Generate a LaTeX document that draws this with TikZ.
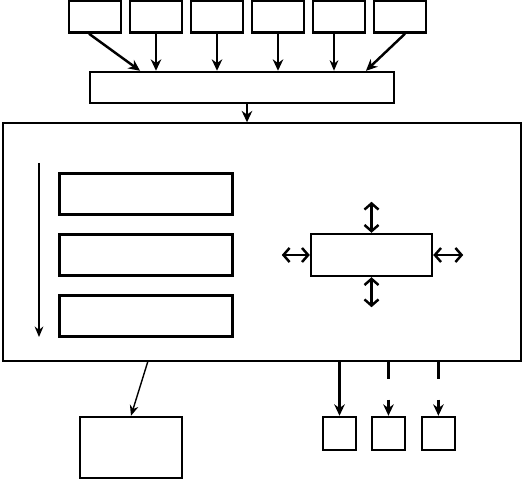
\documentclass[tikz,border=0pt]{standalone}
\usepackage{tikz}
\usetikzlibrary{arrows.meta, positioning, calc}

\begin{document}
\begin{tikzpicture}[
    x=0.02cm, y=-0.02cm,
    box/.style={rectangle, draw, line width=1.4pt, inner sep=0pt},
    topbox/.style={box, minimum width=1.04cm, minimum height=0.64cm},
    stage/.style={box, minimum width=3.46cm, minimum height=0.82cm},
    outbox/.style={box, minimum width=0.66cm, minimum height=0.66cm},
    arrow/.style={-{Stealth[length=6.5pt,width=6pt]}, line width=1.4pt},
    thinarrow/.style={-{Stealth[length=6pt,width=5pt]}, line width=0.8pt},
    dblarrow/.style={{Straight Barb[length=3.5pt,width=8pt]}-{Straight Barb[length=3.5pt,width=8pt]}, line width=1.4pt},
    node distance=0.35cm
]
\useasboundingbox (0,0) rectangle (526,479);
\foreach \i in {1,...,6}
    \node[topbox] (T\i) at ({95+61*(\i-1)},16.5) {};
\node[box, minimum width=6.08cm, minimum height=0.62cm] (W) at (242,87.5) {};
\node[rectangle, draw, line width=0.8pt, minimum width=10.36cm,
      minimum height=4.76cm] (M) at (262,242) {};
\node[stage] (S1) at (146,194) {};
\node[stage, below=of S1] (S2) {};
\node[stage, below=of S2] (S3) {};
\node[box, minimum width=2.42cm, minimum height=0.84cm] (R) at (371.5,255) {};
\node[box, minimum width=2.04cm, minimum height=1.22cm] (B) at (131,447.5) {};
\node[outbox] (O1) at (339.5,433.5) {};
\node[outbox, right=0.27cm of O1] (O2) {};
\node[outbox, right=0.29cm of O2] (O3) {};
\coordinate (t5) at ([xshift=-0.1cm]T5.south);
\coordinate (wout) at ([xshift=0.1cm]W.south);
\coordinate (ltop) at (39,163);
\coordinate (lbot) at (39,337);
\coordinate[above=0.62cm of R.north] (rn);
\coordinate[below=0.6cm of R.south] (rs);
\coordinate[left=0.56cm of R.west] (rw);
\coordinate[right=0.6cm of R.east] (re);
\coordinate (mout) at (148,361);
\draw[arrow] ([xshift=-0.12cm]T1.south) -- ([xshift=-2.04cm]W.north);
\foreach \i in {2,3,4}
    \draw[arrow] (T\i.south) -- (T\i.south |- W.north);
\draw[thinarrow] (t5) -- (t5 |- W.north);
\draw[arrow] ([xshift=0.1cm]T6.south) -- ([xshift=2.48cm]W.north);
\draw[arrow] (wout) -- (wout |- M.north);
\draw[thinarrow] (ltop) -- (lbot);
\draw[dblarrow] (R.north) -- (rn);
\draw[dblarrow] (R.south) -- (rs);
\draw[dblarrow] (R.west) -- (rw);
\draw[dblarrow] (R.east) -- (re);
\draw[thinarrow] (mout) -- (B.north);
\draw[arrow] (O1.north |- M.south) -- (O1.north);
\foreach \i in {2,3}
    \draw[arrow, dash pattern=on 0.34cm off 0.42cm] (O\i.north |- M.south) -- (O\i.north);
\end{tikzpicture}
\end{document}
